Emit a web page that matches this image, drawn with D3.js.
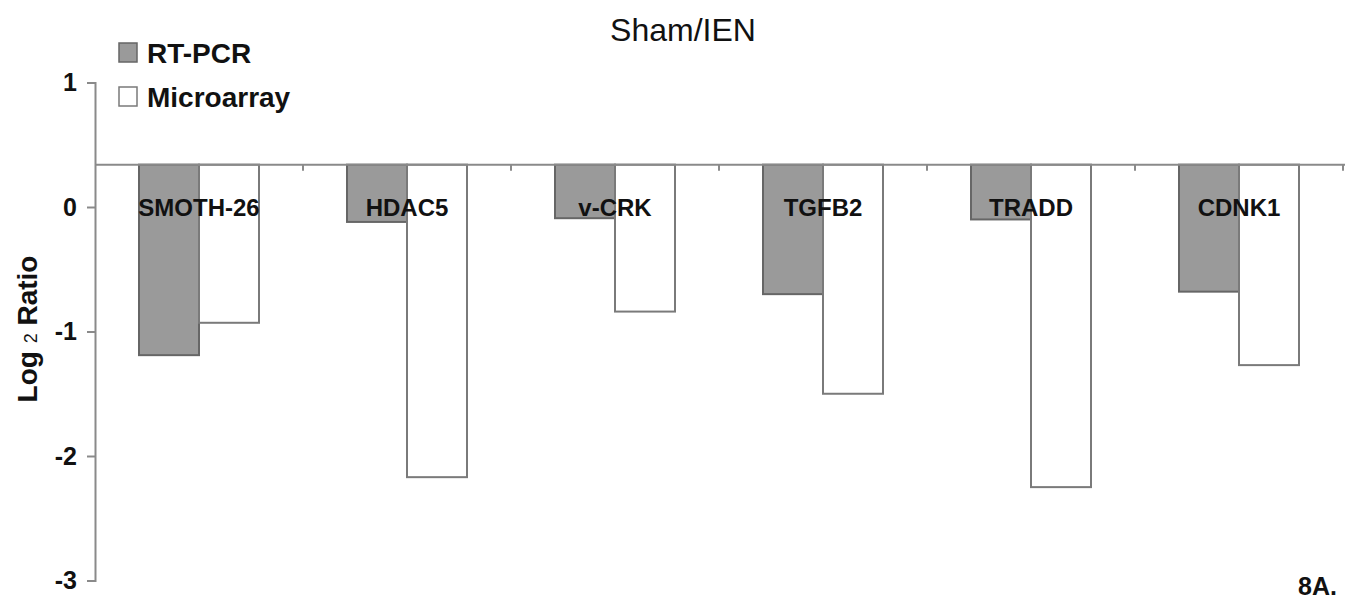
<!DOCTYPE html>
<html>
<head>
<meta charset="utf-8">
<script src="https://cdn.jsdelivr.net/npm/d3@7"></script>
<style>
  html, body { margin: 0; padding: 0; background: #fff; }
  svg { display: block; font-family: "Liberation Sans", Arial, sans-serif; }
</style>
</head>
<body>
<svg id="chart" width="1358" height="602"></svg>
<script>
// Genes compared
const genes = ["SMOTH-26", "HDAC5", "v-CRK", "TGFB2", "TRADD", "CDNK1"];
// Log2 ratios per method
const rtPcr = [-1.19, -0.12, -0.09, -0.70, -0.10, -0.68];
const microarray = [-0.93, -2.17, -0.84, -1.50, -2.25, -1.27];
const seriesNames = ["RT-PCR", "Microarray"];
const yTicks = [-3, -2, -1, 0, 1];
// value where the category axis crosses the value axis
const axisCross = 0.34;

const svg = d3.select("#chart");
const axisColor = "#8a8a8a";

const x0 = d3.scaleBand().domain(genes).range([95, 1343]).padding(0);
const pairWidth = 120;
const x1 = d3.scaleBand().domain(seriesNames)
  .range([(x0.bandwidth() - pairWidth) / 2, (x0.bandwidth() + pairWidth) / 2]).padding(0);
const y = d3.scaleLinear().domain([-3, 1]).range([580.5, 82.5]);

const fills = { "RT-PCR": "#9a9a9a", "Microarray": "#ffffff" };
const strokes = { "RT-PCR": "#666666", "Microarray": "#7a7a7a" };

const rows = genes.map((g, i) => ({ gene: g, values: [
  { key: "RT-PCR", value: rtPcr[i] },
  { key: "Microarray", value: microarray[i] }
]}));

// bars hang from the category axis
const groups = svg.append("g").selectAll("g").data(rows).join("g")
  .attr("transform", d => `translate(${x0(d.gene)},0)`);
groups.selectAll("rect").data(d => d.values).join("rect")
  .attr("x", d => x1(d.key))
  .attr("width", x1.bandwidth())
  .attr("y", d => Math.min(y(axisCross), y(d.value)))
  .attr("height", d => Math.abs(y(d.value) - y(axisCross)))
  .attr("fill", d => fills[d.key])
  .attr("stroke", d => strokes[d.key])
  .attr("stroke-width", 2);

// value axis
const yAxis = svg.append("g").attr("transform", "translate(95,0)")
  .call(d3.axisLeft(y).tickValues(yTicks).tickSize(8).tickPadding(10).tickFormat(d3.format("d")));
yAxis.select(".domain").attr("stroke", axisColor).attr("stroke-width", 2);
yAxis.selectAll(".tick line").attr("stroke", axisColor).attr("stroke-width", 2);
yAxis.selectAll(".tick text")
  .attr("fill", "#111").attr("font-size", 25).attr("font-weight", "bold")
  .attr("font-family", "Liberation Sans, Arial, sans-serif")
  .text(d => d < 0 ? "-" + Math.abs(d) : d);

// category axis line with boundary ticks
const yc = y(axisCross);
svg.append("line").attr("x1", 95).attr("x2", 1345).attr("y1", yc).attr("y2", yc)
  .attr("stroke", axisColor).attr("stroke-width", 2);
svg.append("g").selectAll("line").data(genes).join("line")
  .attr("x1", d => x0(d) + x0.bandwidth()).attr("x2", d => x0(d) + x0.bandwidth())
  .attr("y1", yc).attr("y2", yc + 6)
  .attr("stroke", axisColor).attr("stroke-width", 2);

// gene names placed on the zero level
svg.append("g").selectAll("text").data(genes).join("text")
  .attr("x", d => x0(d) + x0.bandwidth() / 2)
  .attr("y", y(0) + 9)
  .attr("text-anchor", "middle")
  .attr("font-size", 24).attr("font-weight", "bold").attr("fill", "#111")
  .text(d => d);

// title
svg.append("text").attr("x", 683).attr("y", 41).attr("text-anchor", "middle")
  .attr("font-size", 32).attr("fill", "#111").text("Sham/IEN");

// legend
const legend = svg.append("g").selectAll("g").data(seriesNames).join("g")
  .attr("transform", (d, i) => `translate(119,${43 + i * 44})`);
legend.append("rect").attr("width", 18).attr("height", 19)
  .attr("fill", d => fills[d]).attr("stroke", d => strokes[d]).attr("stroke-width", 1.5);
legend.append("text").attr("x", 28).attr("y", 20)
  .attr("font-size", 28).attr("font-weight", "bold").attr("fill", "#111")
  .text(d => d);

// value axis title with subscript
const yt = svg.append("text")
  .attr("transform", "translate(37,329) rotate(-90)")
  .attr("text-anchor", "middle")
  .attr("font-size", 28).attr("font-weight", "bold").attr("fill", "#111");
yt.append("tspan").text("Log ");
yt.append("tspan").attr("font-size", 18).attr("font-weight", "normal").text("2");
yt.append("tspan").text(" Ratio");

// panel tag
svg.append("text").attr("x", 1337).attr("y", 595).attr("text-anchor", "end")
  .attr("font-size", 25).attr("font-weight", "bold").attr("fill", "#111").text("8A.");
</script>
</body>
</html>
